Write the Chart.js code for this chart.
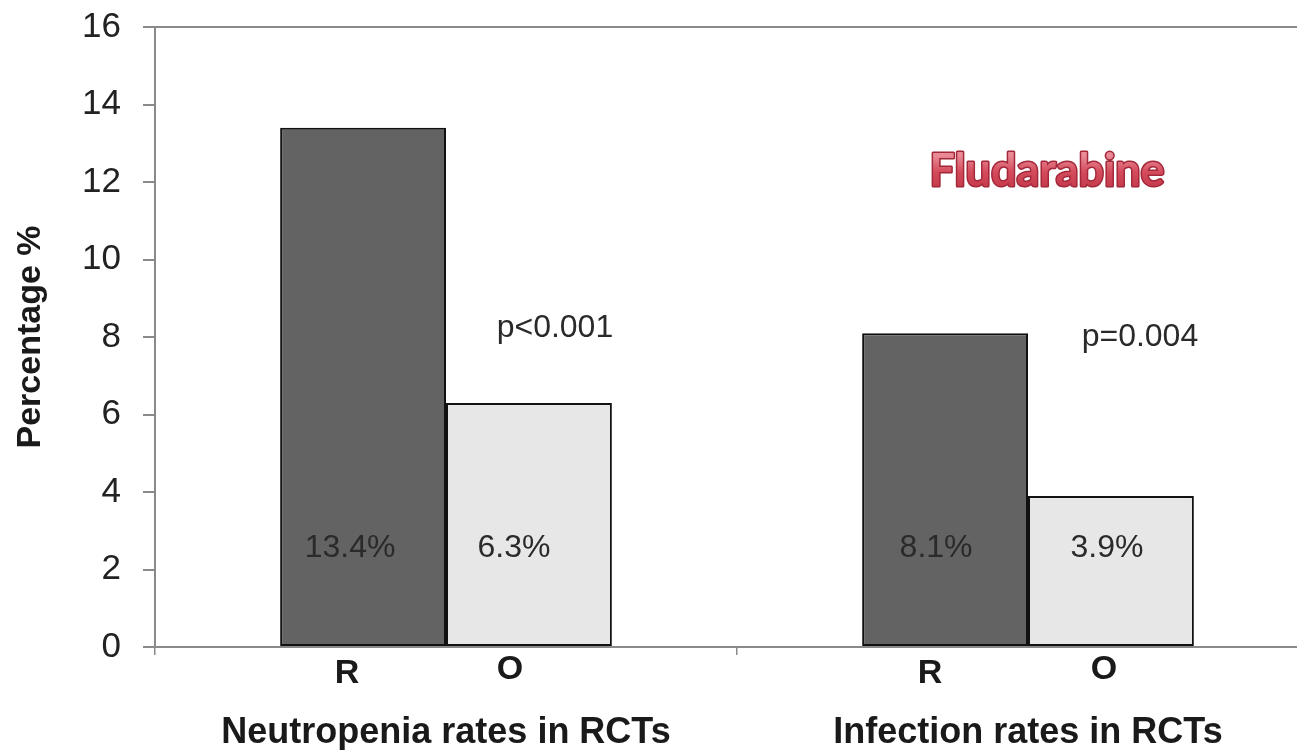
<!DOCTYPE html>
<html>
<head>
<meta charset="utf-8">
<script src="https://cdn.jsdelivr.net/npm/chart.js@4.4.0/dist/chart.umd.min.js"></script>
<style>
  html, body { margin: 0; padding: 0; background: #fff; overflow: hidden; }
  #wrap { width: 1330px; height: 750px; }
</style>
</head>
<body>
<div id="wrap"><canvas id="chart"></canvas></div>
<script>
// Data
const categories = ['Neutropenia rates in RCTs', 'Infection rates in RCTs'];
const seriesNames = ['R', 'O'];
const rValues = [13.4, 8.1];
const oValues = [6.3, 3.9];
const pValues = ['p<0.001', 'p=0.004'];
const yTicks = [0, 2, 4, 6, 8, 10, 12, 14, 16];
const title = 'Fludarabine';

const FONT = '"Liberation Sans", Arial, sans-serif';

// small horizontal nudges of the labels, per series / category (pixels)
const valueShift = [[-13, -9], [-15, -4]];
const letterShift = [[-16, -15], [-19, -7]];
const pShift = [26, 29];
const pY = [8.23, 8.0];

// Annotations drawn on top: R/O labels, % inside bars, p-values, red title
const annotations = {
  id: 'annotations',
  afterDatasetsDraw(chart) {
    const ctx = chart.ctx;
    const x = chart.scales.x;
    const y = chart.scales.y;
    ctx.save();
    ctx.textAlign = 'center';
    ctx.textBaseline = 'middle';

    chart.data.datasets.forEach((ds, di) => {
      const meta = chart.getDatasetMeta(di);
      meta.data.forEach((bar, i) => {
        // value label inside bar
        ctx.fillStyle = '#2a2a2a';
        ctx.font = '32px ' + FONT;
        ctx.fillText(ds.data[i].toFixed(1) + '%', bar.x + valueShift[di][i], y.getPixelForValue(2.55));
        // series letter under bar
        ctx.font = 'bold 34px ' + FONT;
        ctx.fillStyle = '#1a1a1a';
        ctx.fillText(seriesNames[di], bar.x + letterShift[di][i], y.bottom + 27 - di * 4);
      });
    });

    // p-values
    ctx.font = '32px ' + FONT;
    ctx.fillStyle = '#2a2a2a';
    const pMeta = chart.getDatasetMeta(1);
    pValues.forEach((p, i) => {
      ctx.fillText(p, pMeta.data[i].x + pShift[i], y.getPixelForValue(pY[i]));
    });

    // red title
    const tx = x.getPixelForValue(1) + 19;
    const ty = y.getPixelForValue(12.26);
    ctx.font = 'bold 38px Lato, "Open Sans", sans-serif';
    const w = ctx.measureText(title).width;
    const size = 38 * 235 / w;
    ctx.font = 'bold ' + size.toFixed(1) + 'px Lato, "Open Sans", sans-serif';
    ctx.lineJoin = 'round';
    ctx.lineWidth = 3;
    ctx.strokeStyle = '#a3283a';
    ctx.strokeText(title, tx, ty);
    const grad = ctx.createLinearGradient(0, ty - 16, 0, ty + 16);
    grad.addColorStop(0, '#e98a95');
    grad.addColorStop(0.5, '#d44b5c');
    grad.addColorStop(1, '#c43a4c');
    ctx.fillStyle = grad;
    ctx.fillText(title, tx, ty);
    ctx.restore();
  }
};

new Chart(document.getElementById('chart'), {
  type: 'bar',
  data: {
    labels: categories,
    datasets: [
      {
        label: seriesNames[0],
        data: rValues,
        backgroundColor: '#636363',
        borderColor: '#111',
        borderWidth: 2,
        borderSkipped: false
      },
      {
        label: seriesNames[1],
        data: oValues,
        backgroundColor: '#e7e7e7',
        borderColor: '#111',
        borderWidth: 2,
        borderSkipped: false
      }
    ]
  },
  options: {
    responsive: true,
    maintainAspectRatio: false,
    animation: false,
    events: [],
    layout: { padding: { top: 27, right: 11, bottom: 0, left: 0 } },
    datasets: { bar: { categoryPercentage: 0.57, barPercentage: 1.0 } },
    plugins: {
      legend: { display: false },
      tooltip: { enabled: false }
    },
    scales: {
      x: {
        offset: true,
        grid: {
          offset: true,
          color: 'rgba(0,0,0,0)',
          tickColor: '#8a8a8a',
          tickLength: 8,
          lineWidth: 1.5
        },
        border: { color: '#8a8a8a', width: 2 },
        ticks: {
          color: '#1a1a1a',
          font: { family: FONT, size: 36, weight: 'bold' },
          padding: 56,
          maxRotation: 0
        },
        afterFit(scale) {
          scale.height = 103;
          scale.paddingLeft = 0;
          scale.paddingRight = 0;
        }
      },
      y: {
        min: 0,
        max: 16,
        afterBuildTicks(scale) { scale.ticks = yTicks.map(v => ({ value: v })); },
        grid: {
          color: ctx => ctx.tick && ctx.tick.value === 16 ? '#8a8a8a' : 'rgba(0,0,0,0)',
          lineWidth: 2,
          tickColor: '#8a8a8a',
          tickLength: 12
        },
        border: { color: '#8a8a8a', width: 2 },
        ticks: {
          color: '#222',
          font: { family: FONT, size: 35 },
          padding: 22
        },
        title: {
          display: true,
          text: 'Percentage %',
          color: '#1a1a1a',
          font: { family: FONT, size: 34, weight: 'bold' },
          padding: { top: 10, bottom: 0 }
        },
        afterFit(scale) {
          scale.width = 155;
          scale.paddingTop = 0;
          scale.paddingBottom = 0;
        }
      }
    }
  },
  plugins: [annotations]
});
</script>
</body>
</html>
